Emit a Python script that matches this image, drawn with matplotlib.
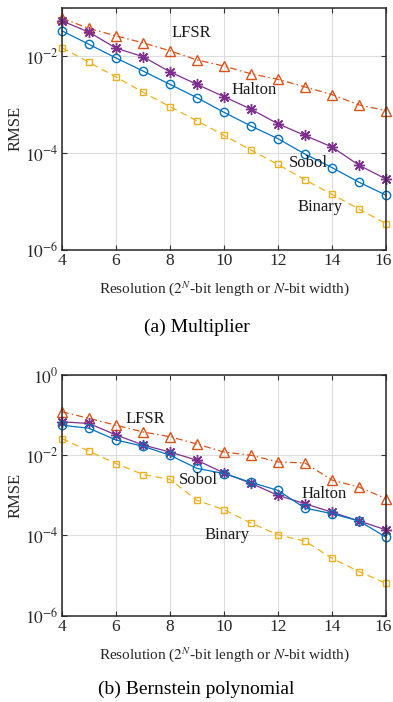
import matplotlib
matplotlib.use("Agg")
import matplotlib.pyplot as plt
import matplotlib.transforms as mtransforms
import numpy as np

plt.rcParams['font.family'] = ['Liberation Serif', 'DejaVu Serif']
plt.rcParams['mathtext.fontset'] = 'stix'

resolution = [4, 5, 6, 7, 8, 9, 10, 11, 12, 13, 14, 15, 16]

# (a) Multiplier
mul_lfsr = [0.060, 0.037, 0.026, 0.0187, 0.0128, 0.0083, 0.0062, 0.0043, 0.0033, 0.0023, 0.0016, 0.00098, 0.00075]
mul_halton = [0.053, 0.031, 0.0145, 0.0097, 0.0047, 0.0026, 0.00145, 0.00080, 0.00040, 0.00023, 0.000133, 5.6e-5, 2.9e-5]
mul_sobol = [0.033, 0.0174, 0.0091, 0.0049, 0.0026, 0.00138, 0.00069, 0.00036, 0.000197, 9.5e-5, 5.0e-5, 2.5e-5, 1.35e-5]
mul_binary = [0.0148, 0.0074, 0.0037, 0.00179, 0.00090, 0.00046, 0.00023, 0.000115, 5.8e-5, 2.8e-5, 1.4e-5, 7.0e-6, 3.5e-6]

# (b) Bernstein polynomial
ber_lfsr = [0.121, 0.083, 0.056, 0.038, 0.029, 0.019, 0.012, 0.010, 0.0068, 0.0064, 0.0024, 0.0016, 0.00083]
ber_halton = [0.068, 0.062, 0.032, 0.018, 0.012, 0.0075, 0.0036, 0.0020, 0.0010, 0.00062, 0.00038, 0.00023, 0.000138]
ber_sobol = [0.056, 0.047, 0.024, 0.0168, 0.010, 0.0047, 0.0035, 0.0021, 0.00133, 0.00048, 0.00035, 0.00023, 9.1e-5]
ber_binary = [0.026, 0.0126, 0.0062, 0.0033, 0.0025, 0.00075, 0.00044, 0.000204, 0.000104, 7.2e-5, 2.7e-5, 1.26e-5, 6.4e-6]

xticks = [4, 6, 8, 10, 12, 14, 16]

c_blue = '#0072BD'
c_orange = '#D95319'
c_yellow = '#EDB120'
c_purple = '#7E2F8E'

xlabel = r'Resolution ($2^{N}$-bit length or $N$-bit width)'

fig = plt.figure(figsize=(3.93, 7.02), dpi=100)

def style_axes(ax, ylim, yticks):
    ax.set_yscale('log')
    ax.set_xlim(4, 16)
    ax.set_ylim(*ylim)
    ax.set_xticks(xticks)
    ax.set_xticklabels([str(t) for t in xticks])
    ax.set_yticks(yticks)
    ax.set_yticklabels([r'$10^{%d}$' % int(np.log10(t)) for t in yticks])
    ax.minorticks_off()
    ax.grid(True, color='#dddddd', linewidth=0.8)
    ax.set_axisbelow(True)
    ax.tick_params(direction='in', top=True, right=True, labelsize=12.5, length=3.5, width=0.8,
                   colors='#333333', labelcolor='#262626', pad=2.5)
    for s in ax.spines.values():
        s.set_linewidth(1.1)
        s.set_color('#262626')
    ax.set_ylabel('RMSE', fontsize=12, color='#262626', labelpad=1)
    ax.set_xlabel(xlabel, fontsize=11, color='#262626', labelpad=7)
    # nudge the last x tick label slightly so it stays inside the figure
    last = ax.get_xticklabels()[-1]
    last.set_transform(last.get_transform() + mtransforms.ScaledTranslation(-3/100, 0, fig.dpi_scale_trans))

def plot_series(ax, lfsr, halton, sobol, binary):
    ax.plot(resolution, lfsr, linestyle=(0, (5.5, 2.5, 1.2, 2.5)), color=c_orange, marker='^', markersize=7.5,
            markerfacecolor='none', linewidth=0.9, clip_on=False)
    ax.plot(resolution, halton, linestyle='-', color=c_purple, marker=(8, 2, 0), markersize=8,
            markerfacecolor='none', markeredgewidth=1.0, linewidth=0.9, clip_on=False)
    ax.plot(resolution, sobol, linestyle='-', color=c_blue, marker='o', markersize=6,
            markerfacecolor='none', linewidth=0.9, clip_on=False)
    ax.plot(resolution, binary, linestyle=(0, (5.5, 3.5)), color=c_yellow, marker='s', markersize=5,
            markerfacecolor='none', linewidth=0.9, clip_on=False)

txt = dict(fontsize=12, ha='center', va='center', color='#1a1a1a')

ax1 = fig.add_axes([62/393, 1-250/702, 324/393, 242.5/702])
plot_series(ax1, mul_lfsr, mul_halton, mul_sobol, mul_binary)
style_axes(ax1, (1e-6, 1e-1), [1e-6, 1e-4, 1e-2])
ax1.text(8.78, 3.0e-2, 'LFSR', **txt)
ax1.text(11.1, 2.0e-3, 'Halton', **txt)
ax1.text(13.11, 6.2e-5, 'Sobol', **txt)
ax1.text(13.56, 7.8e-6, 'Binary', **txt)
fig.text(0.5, 1-327/702, '(a) Multiplier', ha='center', va='center', fontsize=14)

ax2 = fig.add_axes([62/393, 1-615.7/702, 324/393, 240.7/702])
plot_series(ax2, ber_lfsr, ber_halton, ber_sobol, ber_binary)
style_axes(ax2, (1e-6, 1), [1e-6, 1e-4, 1e-2, 1])
ax2.text(7.09, 7.9e-2, 'LFSR', **txt)
ax2.text(9.04, 2.37e-3, 'Sobol', **txt)
ax2.text(13.7, 1.06e-3, 'Halton', **txt)
ax2.text(10.11, 1.0e-4, 'Binary', **txt)
fig.text(0.5, 1-689/702, '(b) Bernstein polynomial', ha='center', va='center', fontsize=14)

fig.savefig('out.png', dpi=100)
